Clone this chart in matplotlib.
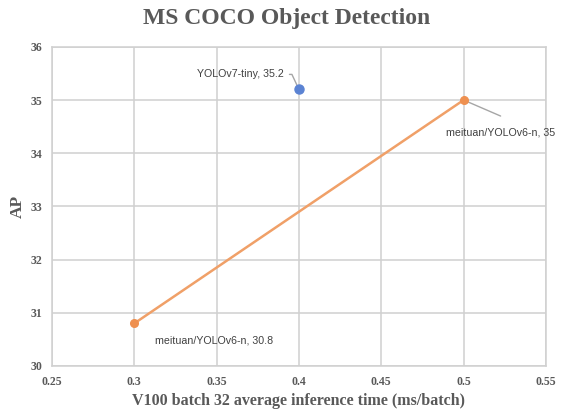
import matplotlib
matplotlib.use("Agg")
import matplotlib.pyplot as plt

# Data
yolov7_x = [0.4]
yolov7_y = [35.2]
yolov6_x = [0.3, 0.5]
yolov6_y = [30.8, 35.0]
labels_v7 = ["YOLOv7-tiny, 35.2"]
labels_v6 = ["meituan/YOLOv6-n, 30.8", "meituan/YOLOv6-n, 35"]
xticks = [0.25, 0.3, 0.35, 0.4, 0.45, 0.5, 0.55]
xtick_labels = ["0.25", "0.3", "0.35", "0.4", "0.45", "0.5", "0.55"]
yticks = [30, 31, 32, 33, 34, 35, 36]

grey_text = "#595959"
grid_c = "#D0D0D0"
blue = "#5B83D3"
orange = "#F0A068"
orange_pt = "#EE9050"

fig = plt.figure(figsize=(5.64, 4.11), dpi=100)
ax = fig.add_axes([0.092, 0.1095, 0.876, 0.7765])

ax.plot(yolov6_x, yolov6_y, color=orange, lw=1.8, zorder=3)
ax.plot(yolov6_x, yolov6_y, 'o', color=orange_pt, ms=5.5, zorder=4)
ax.plot(yolov7_x, yolov7_y, 'o', color=blue, ms=6.5, zorder=4)

ax.set_xlim(0.25, 0.55)
ax.set_ylim(30, 36)
ax.set_xticks(xticks)
ax.set_xticklabels(xtick_labels)
ax.set_yticks(yticks)
ax.grid(True, color=grid_c, lw=1.1)
ax.set_axisbelow(True)
for s in ax.spines.values():
    s.set_color(grid_c)
    s.set_linewidth(1.1)
ax.tick_params(length=0, pad=7, labelcolor=grey_text)
for lab in ax.get_xticklabels() + ax.get_yticklabels():
    lab.set_family("Liberation Serif")
    lab.set_fontweight("bold")
    lab.set_fontsize(8.5)

fig.text(0.508, 0.955, "MS COCO Object Detection", family="Liberation Serif",
         fontweight="bold", fontsize=17, color=grey_text, ha="center", va="center")
ax.set_xlabel("V100 batch 32 average inference time (ms/batch)",
              family="Liberation Serif", fontweight="bold", fontsize=11.5,
              color=grey_text, labelpad=4)
ax.set_ylabel("AP", family="Liberation Serif", fontweight="bold",
              fontsize=12.5, color=grey_text, labelpad=3)

lab_kw = dict(family="Liberation Sans", fontsize=7.7, color="#404040")

# YOLOv7 label with elbow leader
ax.annotate(labels_v7[0], xy=(yolov7_x[0], yolov7_y[0]), xycoords="data",
            xytext=(-15, 15), textcoords="offset pixels", ha="right", va="center",
            arrowprops=dict(arrowstyle="-", color="#A6A6A6", lw=1,
                            shrinkA=2, shrinkB=3,
                            connectionstyle="angle,angleA=0,angleB=115,rad=0"),
            **lab_kw)

# YOLOv6 upper label with leader
ax.annotate("", xy=(yolov6_x[1], yolov6_y[1]), xytext=(37, -16),
            textcoords="offset pixels",
            arrowprops=dict(arrowstyle="-", color="#A6A6A6", lw=1,
                            shrinkA=0, shrinkB=3))
ax.annotate(labels_v6[1], xy=(yolov6_x[1], yolov6_y[1]), xytext=(-18, -32),
            textcoords="offset pixels", ha="left", va="center", **lab_kw)

# YOLOv6 lower label
ax.annotate(labels_v6[0], xy=(yolov6_x[0], yolov6_y[0]), xytext=(21, -17),
            textcoords="offset pixels", ha="left", va="center", **lab_kw)

fig.savefig("out.png", dpi=100)
